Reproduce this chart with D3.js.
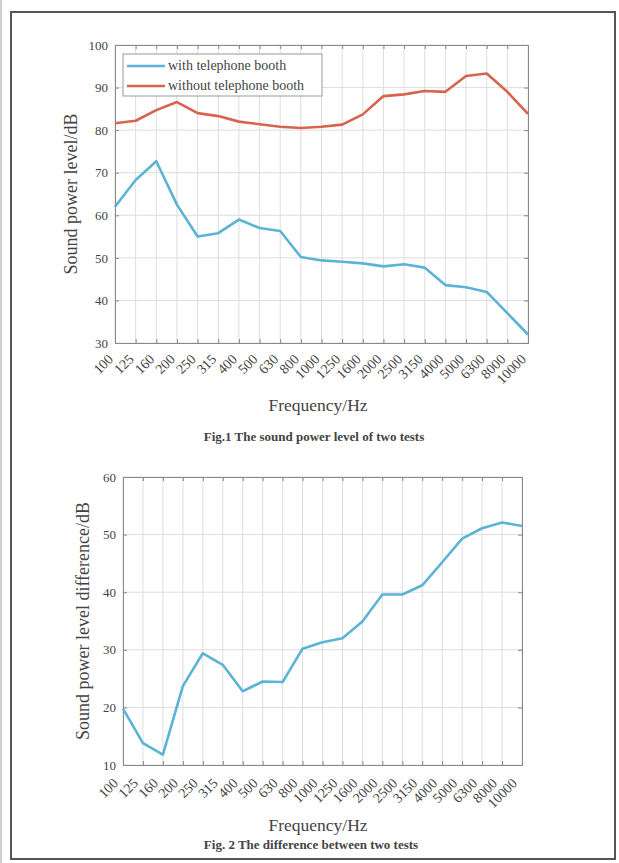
<!DOCTYPE html>
<html lang="en">
<head>
	<meta charset="UTF-8">
	<title>Sound power level of two tests</title>
	<script src="https://d3js.org/d3.v7.min.js"></script>
	<style>
		body {
			margin: 0;
			background: #fff;
		}
		svg {
			display: block;
		}
		text {
			font-family: "Liberation Serif", "DejaVu Serif", serif;
			fill: #444;
		}
	</style>
</head>
<body>
<div id="chart"></div>
<script>
	// frequency bands (Hz)
	const frequencies = ["100", "125", "160", "200", "250", "315", "400", "500", "630", "800",
		"1000", "1250", "1600", "2000", "2500", "3150", "4000", "5000", "6300", "8000", "10000"];

	// Fig.1 series (dB)
	const withBooth = [62, 68.3, 72.7, 62.5, 55, 55.8, 59, 57, 56.3, 50.2,
		49.4, 49.1, 48.7, 48, 48.5, 47.7, 43.6, 43.1, 42, 37, 32];
	const withoutBooth = [81.6, 82.2, 84.7, 86.6, 84, 83.3, 82, 81.4, 80.8, 80.5,
		80.8, 81.3, 83.7, 88, 88.4, 89.2, 89, 92.7, 93.3, 89, 83.8];

	// Fig.2 series (dB)
	const difference = [19.8, 13.8, 11.8, 23.7, 29.4, 27.4, 22.8, 24.5, 24.4, 30.2,
		31.3, 32, 34.9, 39.6, 39.6, 41.2, 45.2, 49.3, 51.1, 52.1, 51.5];

	const yTicks1 = [30, 40, 50, 60, 70, 80, 90, 100];
	const yTicks2 = [10, 20, 30, 40, 50, 60];

	const seriesNames = ["with telephone booth", "without telephone booth"];
	const colors = { blue: "#5bb3d6", red: "#d6644f" };

	const W = 619, H = 863;

	const svg = d3.create("svg")
		.attr("width", W)
		.attr("height", H);

	// page frame
	svg.append("rect").attr("x", 0).attr("y", 0).attr("width", 2).attr("height", H).attr("fill", "#d0d0d0");
	svg.append("rect")
		.attr("x", 11).attr("y", 12)
		.attr("width", 604).attr("height", 847)
		.attr("fill", "#fff")
		.attr("stroke", "#555")
		.attr("stroke-width", 2);

	function drawChart(cfg) {
		const x = d3.scalePoint()
			.domain(frequencies)
			.range([cfg.left, cfg.right]);
		const y = d3.scaleLinear()
			.domain(cfg.yDomain)
			.range([cfg.bottom, cfg.top]);

		const g = svg.append("g");

		// grid
		g.selectAll(".vgrid").data(frequencies).join("line")
			.attr("x1", d => x(d)).attr("x2", d => x(d))
			.attr("y1", cfg.top).attr("y2", cfg.bottom)
			.attr("stroke", "#dedede").attr("stroke-width", 1);
		g.selectAll(".hgrid").data(cfg.yTicks).join("line")
			.attr("x1", cfg.left).attr("x2", cfg.right)
			.attr("y1", d => y(d)).attr("y2", d => y(d))
			.attr("stroke", "#dedede").attr("stroke-width", 1);

		// axes (ticks inside, box style)
		const xBottom = d3.axisBottom(x).tickSize(-4).tickFormat("");
		const xTop = d3.axisTop(x).tickSize(-4).tickFormat("");
		const yLeft = d3.axisLeft(y).tickValues(cfg.yTicks).tickSize(-4).tickPadding(7);
		const yRight = d3.axisRight(y).tickValues(cfg.yTicks).tickSize(-4).tickFormat("");

		g.append("g").attr("transform", `translate(0,${cfg.bottom})`).call(xBottom);
		g.append("g").attr("transform", `translate(0,${cfg.top})`).call(xTop);
		const yl = g.append("g").attr("transform", `translate(${cfg.left},0)`).call(yLeft);
		g.append("g").attr("transform", `translate(${cfg.right},0)`).call(yRight);
		g.selectAll(".domain").attr("stroke", "#888");
		g.selectAll(".tick line").attr("stroke", "#888");
		yl.selectAll("text")
			.style("font-family", "Liberation Serif")
			.style("font-size", "13px")
			.attr("fill", "#444");

		// rotated x labels
		g.selectAll(".xlab").data(frequencies).join("text")
			.attr("transform", d => `translate(${x(d) + cfg.labDx},${cfg.bottom + cfg.labDy}) rotate(-45)`)
			.attr("text-anchor", "end")
			.style("font-size", "14px")
			.text(d => d);

		// lines
		const line = d3.line()
			.x((d, i) => x(frequencies[i]))
			.y(d => y(d));
		cfg.series.forEach(s => {
			g.append("path")
				.datum(s.values)
				.attr("d", line)
				.attr("fill", "none")
				.attr("stroke", s.color)
				.attr("stroke-width", 2.6)
				.attr("stroke-linejoin", "round");
		});

		// axis titles
		g.append("text")
			.attr("transform", `translate(${cfg.yLabX},${(cfg.top + cfg.bottom) / 2}) rotate(-90)`)
			.attr("text-anchor", "middle")
			.style("font-size", "18px")
			.text(cfg.yLabel);
		g.append("text")
			.attr("x", cfg.xLabX).attr("y", cfg.xLabY)
			.attr("text-anchor", "middle")
			.style("font-size", "17.5px")
			.text("Frequency/Hz");
		g.append("text")
			.attr("x", cfg.capX).attr("y", cfg.capY)
			.attr("text-anchor", "middle")
			.style("font-size", "13px")
			.style("font-weight", "bold")
			.attr("fill", "#333")
			.text(cfg.caption);
		return { x, y, g };
	}

	const c1 = drawChart({
		left: 115, right: 528, top: 45, bottom: 343,
		yDomain: [30, 100], yTicks: yTicks1,
		labDx: -1, labDy: 17,
		yLabel: "Sound power level/dB", yLabX: 77,
		xLabX: 318, xLabY: 411,
		caption: "Fig.1 The sound power level of two tests", capX: 314, capY: 441,
		series: [
			{ values: withBooth, color: colors.blue },
			{ values: withoutBooth, color: colors.red }
		]
	});

	// legend
	const lg = c1.g.append("g");
	lg.append("rect")
		.attr("x", 123).attr("y", 54)
		.attr("width", 199).attr("height", 42)
		.attr("fill", "#fff")
		.attr("stroke", "#999");
	seriesNames.forEach((name, i) => {
		const yy = 66 + i * 20;
		lg.append("line")
			.attr("x1", 127).attr("x2", 165)
			.attr("y1", yy).attr("y2", yy)
			.attr("stroke", i === 0 ? colors.blue : colors.red)
			.attr("stroke-width", 2.6);
		lg.append("text")
			.attr("x", 168).attr("y", yy + 4)
			.style("font-size", "14px")
			.attr("fill", "#333")
			.text(name);
	});

	drawChart({
		left: 123, right: 522, top: 477, bottom: 765,
		yDomain: [10, 60], yTicks: yTicks2,
		labDx: -4, labDy: 19,
		yLabel: "Sound power level difference/dB", yLabX: 89,
		xLabX: 318, xLabY: 831,
		caption: "Fig. 2 The difference between two tests", capX: 311, capY: 849,
		series: [{ values: difference, color: colors.blue }]
	});

	document.getElementById("chart").append(svg.node());
</script>
</body>
</html>
